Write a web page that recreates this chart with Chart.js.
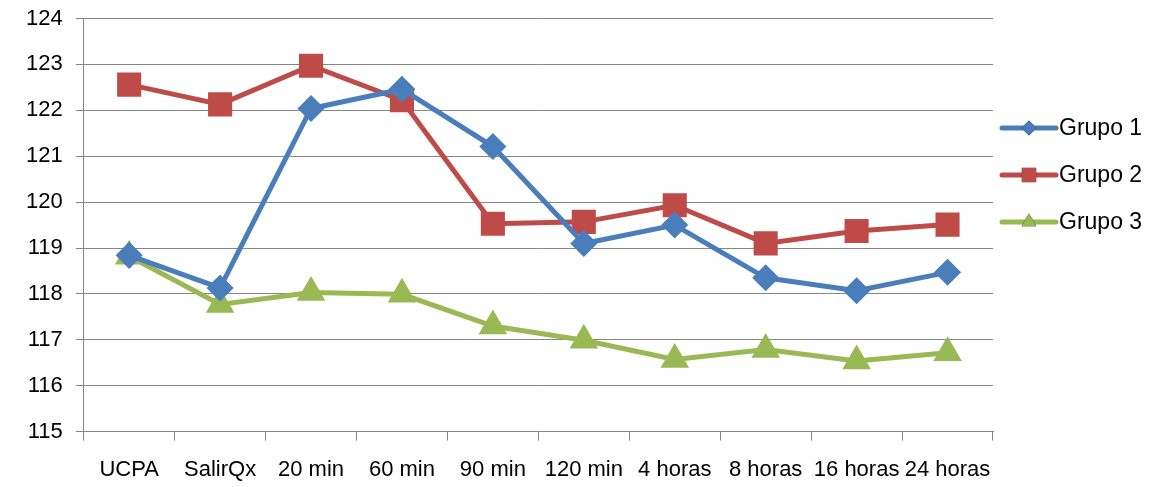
<!DOCTYPE html>
<html>
<head>
<meta charset="utf-8">
<script src="https://cdn.jsdelivr.net/npm/chart.js@4"></script>
<style>
    html, body { margin: 0; padding: 0; background: #fff; }
    #wrap { width: 1156px; height: 487px; }
</style>
</head>
<body>
<div id="wrap"><canvas id="lineChart" width="1156" height="487"></canvas></div>
<script>
// Chart data
const categories = ['UCPA', 'SalirQx', '20 min', '60 min', '90 min', '120 min', '4 horas', '8 horas', '16 horas', '24 horas'];
const grupo1 = [118.84, 118.13, 122.04, 122.46, 121.21, 119.10, 119.50, 118.35, 118.07, 118.47];
const grupo2 = [122.56, 122.13, 122.97, 122.22, 119.53, 119.57, 119.93, 119.10, 119.37, 119.51];
const grupo3 = [118.82, 117.77, 118.03, 117.99, 117.30, 116.99, 116.57, 116.79, 116.54, 116.72];
const yTicks = [115, 116, 117, 118, 119, 120, 121, 122, 123, 124];

const axisFont = "'Liberation Sans', Arial, sans-serif";

// Legend drawn at the right side: line sample with marker, then label
const sideLegend = {
    id: 'sideLegend',
    afterDraw(chart) {
        const ctx = chart.ctx;
        const startX = chart.chartArea.right + 9;
        const rows = [128, 175, 222];
        chart.data.datasets.forEach(function(ds, i) {
            const y = rows[i];
            ctx.save();
            ctx.strokeStyle = ds.borderColor;
            ctx.lineWidth = 5;
            ctx.lineCap = 'round';
            ctx.beginPath();
            ctx.moveTo(startX, y);
            ctx.lineTo(startX + 54, y);
            ctx.stroke();
            ctx.beginPath();
            Chart.helpers.drawPoint(ctx, {
                pointStyle: ds.pointStyle,
                radius: ds.pointRadius * 0.75,
                rotation: 0,
                borderWidth: 0
            }, startX + 27, y);
            ctx.fillStyle = ds.pointBackgroundColor;
            ctx.fill();
            ctx.fillStyle = '#000';
            ctx.font = "23px " + axisFont;
            ctx.textBaseline = 'middle';
            ctx.fillText(ds.label, startX + 57, y + 1);
            ctx.restore();
        });
    }
};

const el = document.getElementById('lineChart');
new Chart(el, {
    type: 'line',
    data: {
        labels: categories,
        datasets: [
            {
                label: 'Grupo 1',
                data: grupo1,
                borderColor: '#4a7ebb',
                backgroundColor: '#4a7ebb',
                pointBackgroundColor: '#4a7ebb',
                pointBorderColor: '#4a7ebb',
                borderWidth: 5,
                pointStyle: 'rectRot',
                pointRadius: 10,
                tension: 0
            },
            {
                label: 'Grupo 2',
                data: grupo2,
                borderColor: '#be4b48',
                backgroundColor: '#be4b48',
                pointBackgroundColor: '#be4b48',
                pointBorderColor: '#be4b48',
                borderWidth: 5,
                pointStyle: 'rect',
                pointRadius: 13.5,
                tension: 0
            },
            {
                label: 'Grupo 3',
                data: grupo3,
                borderColor: '#98b954',
                backgroundColor: '#98b954',
                pointBackgroundColor: '#98b954',
                pointBorderColor: '#98b954',
                borderWidth: 5,
                pointStyle: 'triangle',
                pointRadius: 11.5,
                tension: 0
            }
        ]
    },
    options: {
        responsive: false,
        animation: false,
        layout: {
            padding: { top: -4, right: 163, left: 13, bottom: -12 }
        },
        plugins: {
            legend: { display: false },
            tooltip: { enabled: false }
        },
        scales: {
            x: {
                offset: true,
                grid: {
                    offset: true,
                    drawOnChartArea: false,
                    drawTicks: true,
                    tickLength: 9,
                    color: '#868686',
                    lineWidth: 1
                },
                border: { color: '#868686', width: 1 },
                ticks: {
                    color: '#000',
                    font: { size: 22, family: axisFont },
                    padding: 16,
                    maxRotation: 0,
                    autoSkip: false
                }
            },
            y: {
                min: yTicks[0],
                max: yTicks[yTicks.length - 1],
                afterBuildTicks(axis) {
                    axis.ticks = yTicks.map(function(v) { return { value: v }; });
                },
                afterFit(axis) {
                    // keep the top label close to the canvas edge
                    axis.paddingTop = 10;
                    axis.paddingBottom = 0;
                },
                grid: {
                    color: '#868686',
                    lineWidth: 1,
                    tickLength: 8
                },
                border: { color: '#868686', width: 1 },
                ticks: {
                    color: '#000',
                    font: { size: 22, family: axisFont },
                    padding: 13
                }
            }
        }
    },
    plugins: [sideLegend]
});
</script>
</body>
</html>
